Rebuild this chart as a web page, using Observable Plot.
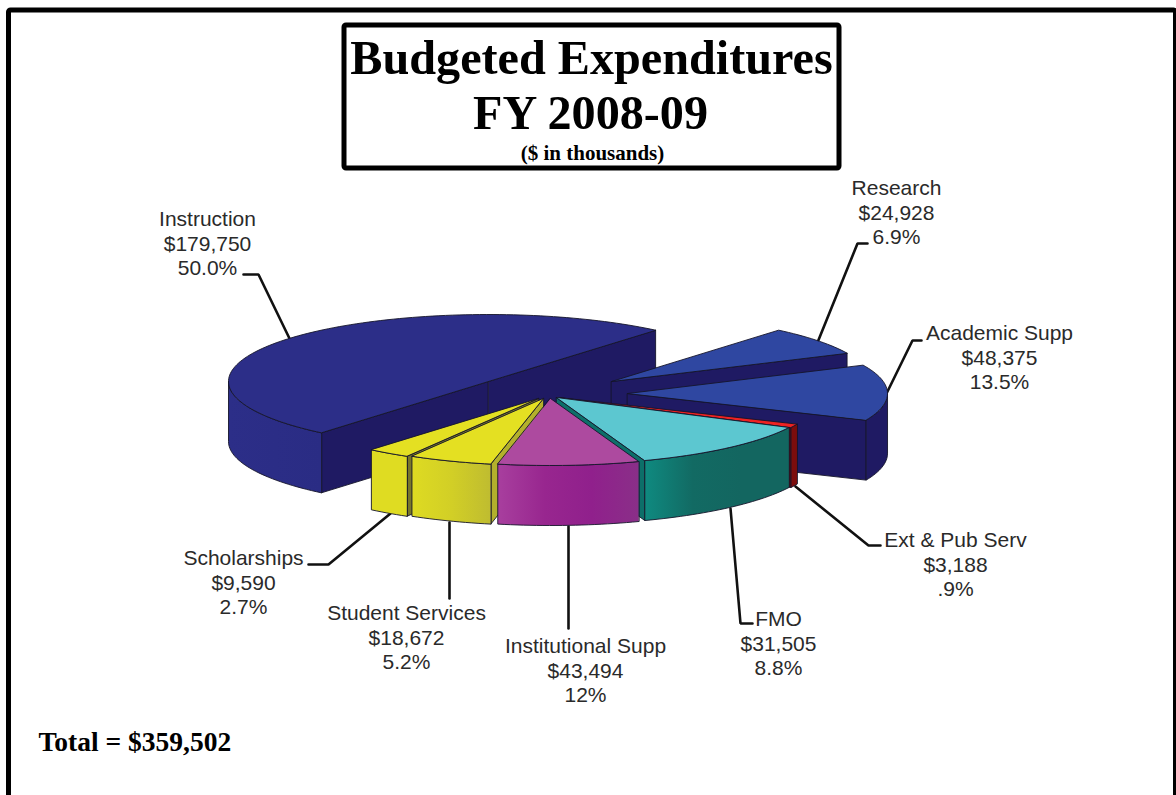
<!DOCTYPE html>
<html>
<head>
<meta charset="utf-8">
<script src="https://cdn.jsdelivr.net/npm/d3@7"></script>
<script src="https://cdn.jsdelivr.net/npm/@observablehq/plot@0.6"></script>
<style>html,body{margin:0;padding:0;background:#fff;overflow:hidden}svg{display:block}</style>
</head>
<body>
<div id="chart"></div>
<script>
// ---- Data
const categories = ["Instruction","Research","Academic Supp","Ext & Pub Serv","FMO","Institutional Supp","Student Services","Scholarships"];
const amounts = [179750,24928,48375,3188,31505,43494,18672,9590];
const percentLabels = ["50.0%","6.9%","13.5%",".9%","8.8%","12%","5.2%","2.7%"];
// wedges as drawn, clockwise from Instruction: the teal wedge sweeps 43,494 and the magenta 31,505
const wedgeNames = ["Instruction","Research","Academic Supp","Ext & Pub Serv","Teal","Magenta","Student Services","Scholarships"];
const wedgeValues = [179750,24928,48375,3188,43494,31505,18672,9590];
const totalLabel = "Total = $359,502";

// ---- Layout
const W = 1176, H = 795;
const rx = 260, ry = 67, depth = 60, startAngle = 220;
const apex = {
  "Instruction":[488,381], "Research":[611,381], "Academic Supp":[627,393], "Ext & Pub Serv":[558,397],
  "Teal":[556,397], "Magenta":[550,398], "Student Services":[543,398], "Scholarships":[538,398]
};
const paintOrder = ["Instruction","Research","Academic Supp","Ext & Pub Serv","Teal","Scholarships","Student Services","Magenta"];
const style = {
  "Instruction":{top:"#2c2e88",wall:"#1f1a63",rim:"url(#gInstr)"},
  "Research":{top:"#2f47a1",wall:"#1f1a63",rim:"#1f1a63"},
  "Academic Supp":{top:"#2f47a1",wall:"#1f1a63",rim:"#1f1a63"},
  "Ext & Pub Serv":{top:"#ee2222",wall:"#7c0d0d",rim:"#7c0d0d"},
  "Teal":{top:"#5cc7d0",wall:"#0d6f69",rim:"url(#gTeal)"},
  "Magenta":{top:"#ad4a9f",wall:"#8a2a88",rim:"url(#gMag)"},
  "Student Services":{top:"#e4e022",wall:"#b3b02c",rim:"url(#gStud)"},
  "Scholarships":{top:"#e4e022",wall:"#77752b",rim:"#dfdc22"}
};
const gradients = {
  gInstr:["#2c2e88","#2a2c84"],
  gTeal:["#0f8a80","#126a63","#136660","#136660"],
  gMag:["#a83f9e","#98268f","#90208c","#8a2f88"],
  gStud:["#dedb22","#d2cf26","#bfbc30"]
};
const labelPos = {
  "Instruction":[207,242], "Research":[896,211], "Academic Supp":[999,356], "Ext & Pub Serv":[955,563],
  "FMO":[778,642], "Institutional Supp":[585,669], "Student Services":[406,636], "Scholarships":[243,581]
};
const leaders = {
  "Instruction":[[243,274],[258,274],[289,338]],
  "Research":[[817,342],[857,243],[867,243]],
  "Academic Supp":[[886,393],[912,340],[921,340]],
  "Ext & Pub Serv":[[795,486],[868,545],[880,545]],
  "FMO":[[730,508],[740,623],[752,623]],
  "Institutional Supp":[[568,526],[568,628]],
  "Student Services":[[449,522],[449,598]],
  "Scholarships":[[390,513],[328,564],[308,564]]
};

// ---- Geometry derived from the values
const total = d3.sum(wedgeValues);
let acc = startAngle;
const wedges = wedgeNames.map((name,i) => {
  let a0 = acc, a1 = acc + wedgeValues[i]/total*360; acc = a1;
  if (a0 >= 360) { a0 -= 360; a1 -= 360; }
  return {name,a0,a1,c:apex[name]};
});
const rad = d => d*Math.PI/180;
const pt = (c,a,dz=0) => ({x:c[0]+rx*Math.sin(rad(a)), y:c[1]-ry*Math.cos(rad(a))+dz});
const arc = (c,a0,a1,dz=0) => { const n=Math.max(2,Math.ceil((a1-a0)/1.5)); return d3.range(n+1).map(k=>pt(c,a0+(a1-a0)*k/n,dz)); };
const P = (c,dz=0) => ({x:c[0],y:c[1]+dz});
const edge = {stroke:"#15152a",strokeWidth:0.9,strokeLinejoin:"round",curve:"linear-closed"};
const face = (pts,fill) => Plot.line(pts,{x:"x",y:"y",fill,...edge});

const marks = [];
// gradient definitions
marks.push(() => {
  const defs = d3.create("svg:defs");
  for (const [id,stops] of Object.entries(gradients)) {
    const g = defs.append("linearGradient").attr("id",id);
    stops.forEach((s,i)=>g.append("stop").attr("offset",i/(stops.length-1)).attr("stop-color",s));
  }
  return defs.node();
});
// frame + title box
marks.push(Plot.rect([{x1:8.5,x2:1175.5,y1:10,y2:830}],{x1:"x1",x2:"x2",y1:"y1",y2:"y2",fill:"none",stroke:"#000",strokeWidth:5,rx:2}));
marks.push(Plot.rect([{x1:344,x2:839,y1:25,y2:168}],{x1:"x1",x2:"x2",y1:"y1",y2:"y2",fill:"#fff",stroke:"#000",strokeWidth:5,rx:2}));
const serif = {fontFamily:"Liberation Serif",fontWeight:"bold",fill:"#000"};
marks.push(Plot.text(["Budgeted Expenditures"],{x:()=>591,y:()=>58,text:d=>d,fontSize:48.2,...serif}));
marks.push(Plot.text(["FY 2008-09"],{x:()=>590,y:()=>113,text:d=>d,fontSize:48.2,...serif}));
marks.push(Plot.text(["($ in thousands)"],{x:()=>592,y:()=>153,text:d=>d,fontSize:21,...serif}));
marks.push(Plot.text([totalLabel],{x:()=>38,y:()=>742,text:d=>d,textAnchor:"start",fontSize:27.5,...serif}));
// leader lines
for (const name of categories) {
  marks.push(Plot.line(leaders[name].map(([x,y])=>({x,y})),{x:"x",y:"y",stroke:"#111",strokeWidth:2.6,strokeLinejoin:"miter"}));
}
// wedges, back to front
for (const name of paintOrder) {
  const w = wedges.find(d=>d.name===name), s = style[name], c = w.c;
  if (Math.sin(rad(w.a0))<0) marks.push(face([P(c),pt(c,w.a0),pt(c,w.a0,depth),P(c,depth)],s.wall));
  if (Math.sin(rad(w.a1))>0) marks.push(face([P(c),pt(c,w.a1),pt(c,w.a1,depth),P(c,depth)],s.wall));
  const f0 = Math.max(w.a0,90), f1 = Math.min(w.a1,270);
  if (f1>f0) marks.push(face([...arc(c,f0,f1),...arc(c,f0,f1,depth).reverse()],s.rim));
  marks.push(face([P(c),...arc(c,w.a0,w.a1)],s.top));
}
// labels
const labels = categories.map((name,i)=>({
  name, x:labelPos[name][0], y:labelPos[name][1],
  text:`${name}\n$${d3.format(",")(amounts[i])}\n${percentLabels[i]}`
}));
marks.push(Plot.text(labels,{x:"x",y:"y",text:"text",fontFamily:"Liberation Sans",fontSize:21,lineHeight:1.19,fill:"#2a2a2a",lineAnchor:"middle"}));

const chart = Plot.plot({
  width:W,height:H,margin:0,
  x:{domain:[0,W],range:[0,W],axis:null},
  y:{domain:[0,H],range:[0,H],axis:null},
  style:{background:"#fff"},
  marks
});
document.getElementById("chart").append(chart);
</script>
</body>
</html>
